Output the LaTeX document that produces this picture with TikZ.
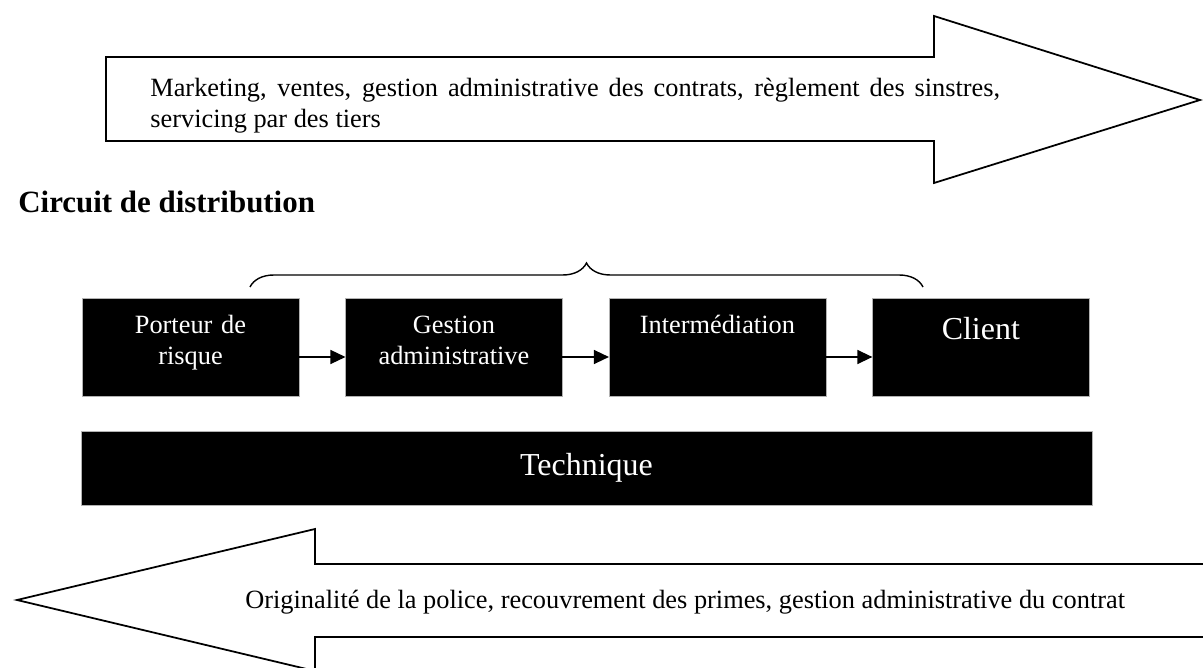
\documentclass[tikz,border=0pt]{standalone}
\usepackage{fontspec}
\setmainfont{Liberation Serif}
\usetikzlibrary{arrows.meta,positioning,decorations.pathreplacing}

\begin{document}
\begin{tikzpicture}[x=0.02cm, y=-0.02cm,
    etape/.style={fill=black, draw=gray!60, line width=0.4pt, minimum width=4.34cm, minimum height=1.96cm, inner sep=0pt, outer sep=0pt},
    etiq/.style={text=white, text width=4.34cm, align=center, inner sep=0pt, anchor=base, label distance=-0.7cm, font=\fontsize{15}{18.2}\selectfont},
    fleche/.style={draw=black, line width=1pt, fill=white, line join=miter},
    lien/.style={line width=0.8pt, -{Triangle[length=3mm, width=2.8mm]}}]
    \useasboundingbox (0,0) rectangle (1203,668);

    % Top arrow
    \draw[fleche] (106,57) -- (934,57) -- (934,16) -- (1200,100) -- (934,183) -- (934,141) -- (106,141) -- cycle;
    \node[anchor=base west, text width=17cm, align=justify, inner sep=0pt, font=\fontsize{15}{17.6}\selectfont] (haut) at (150,97)
        {Marketing, ventes, gestion administrative des contrats, règlement des sinstres,\linebreak servicing par des tiers};

    \node[anchor=base west, inner sep=0pt, font=\fontsize{17.6}{21}\selectfont\bfseries] (titre) at (18,213) {Circuit de distribution};

    % Brace
    \coordinate (accG) at (250,287);
    \coordinate (accD) at (923,287);
    \draw[line width=0.8pt, decorate, decoration={brace, amplitude=0.48cm}] (accG) -- (accD);

    % Boxes
    \node[etape, label={[etiq]north:Porteur de\\risque}] (porteur) at (190.5,347) {};
    \node[etape, right=0.93cm of porteur, label={[etiq]north:Gestion\\administrative}] (gestion) {};
    \node[etape, right=0.93cm of gestion, label={[etiq]north:Intermédiation}] (interm) {};
    \node[etape, right=0.93cm of interm, label={[etiq, font=\fontsize{18.2}{21}\selectfont, label distance=-0.84cm]north:Client}] (client) {};

    \draw[lien] ([yshift=-0.2cm]porteur.east) -- ([yshift=-0.2cm]gestion.west);
    \draw[lien] ([yshift=-0.2cm]gestion.east) -- ([yshift=-0.2cm]interm.west);
    \draw[lien] ([yshift=-0.2cm]interm.east) -- ([yshift=-0.2cm]client.west);

    \node[etape, minimum width=20.22cm, minimum height=1.48cm, text=white, font=\fontsize{18.2}{21}\selectfont] (technique) at (586.5,468) {Technique};

    % Bottom arrow
    \draw[fleche] (1215,564) -- (315,564) -- (315,529) -- (17,600) -- (315,671) -- (315,637) -- (1215,637);
    \node[anchor=base west, inner sep=0pt, font=\fontsize{15}{17.6}\selectfont] (bas) at (245,608)
        {Originalité de la police, recouvrement des primes, gestion administrative du contrat};

\end{tikzpicture}
\end{document}
